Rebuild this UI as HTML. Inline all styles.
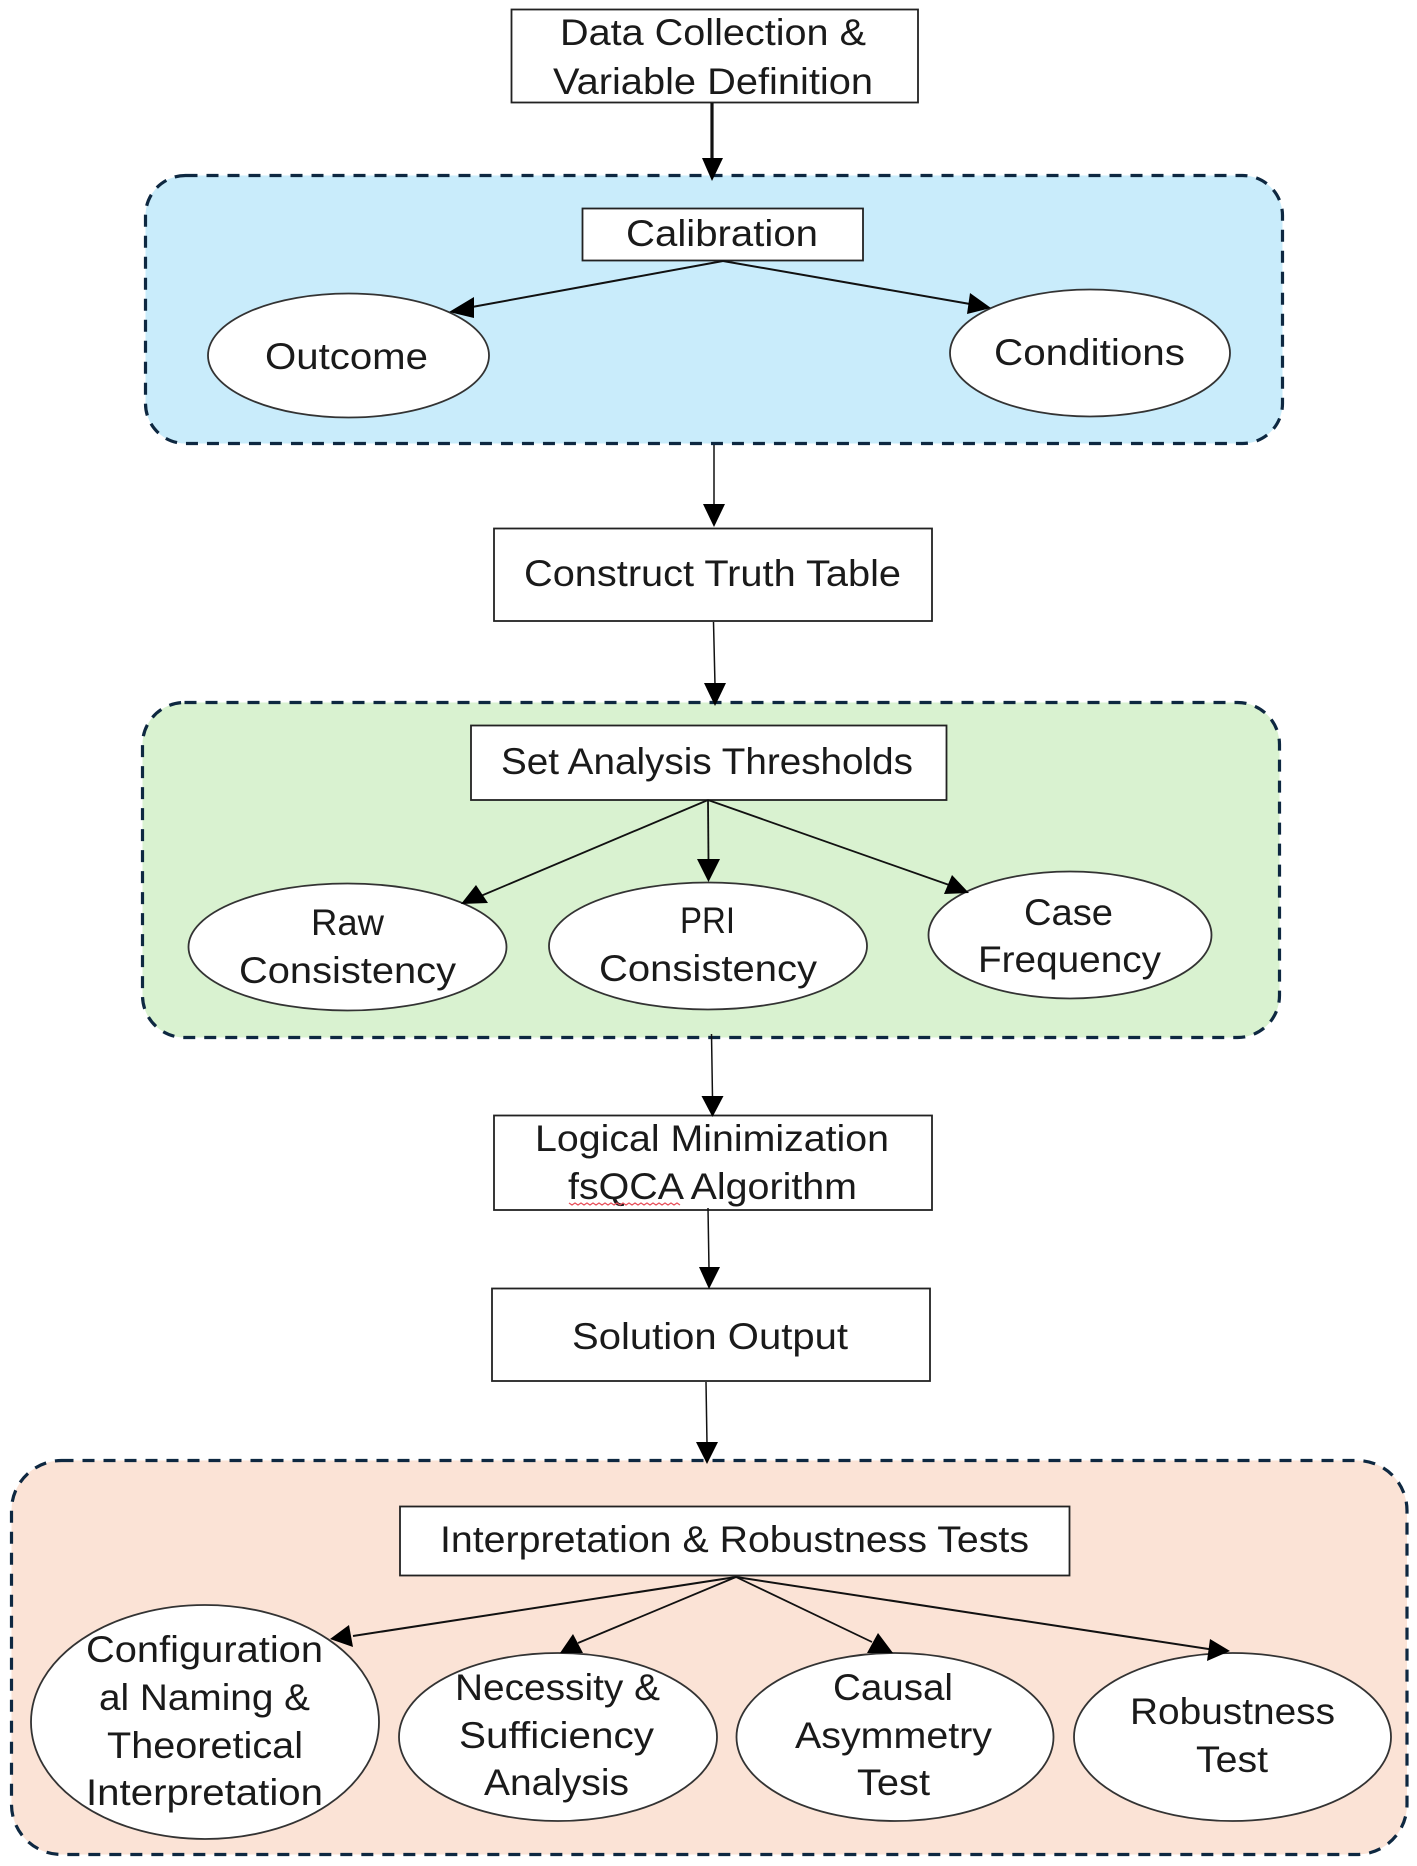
<!DOCTYPE html>
<html lang="en">
<head>
<meta charset="utf-8">
<title>fsQCA process diagram</title>
<style>
html,body{margin:0;padding:0;background:#fff;}
svg{display:block;}
text{font-family:"Liberation Sans",sans-serif;font-size:37px;fill:#1a1a1a;}
</style>
</head>
<body>
<svg width="1417" height="1866" viewBox="0 0 1417 1866" xmlns="http://www.w3.org/2000/svg">
<rect width="1417" height="1866" fill="#ffffff"/>

<!-- Groups -->
<g stroke="#0e2841" stroke-width="3.2" stroke-dasharray="12 9">
<rect x="145.5" y="175.5" width="1137" height="268" rx="40" fill="#c9ecfb"/>
<rect x="142.5" y="702.5" width="1137" height="335" rx="42" fill="#d9f2d0"/>
<rect x="11.5" y="1460.5" width="1395.5" height="394" rx="50" fill="#fbe3d6"/>
</g>

<!-- Boxes -->
<g fill="#ffffff" stroke="#222222" stroke-width="1.8">
<rect x="511.5" y="9.5" width="406.5" height="93"/>
<rect x="582.5" y="208.5" width="280.5" height="52"/>
<rect x="494" y="528.5" width="438" height="92.5"/>
<rect x="471" y="725.5" width="475.5" height="74.5"/>
<rect x="494" y="1115.5" width="438" height="94.5"/>
<rect x="492" y="1288.5" width="438" height="92.5"/>
<rect x="400" y="1506.5" width="669.5" height="69"/>
</g>

<!-- Ellipses -->
<g fill="#ffffff" stroke="#333333" stroke-width="1.8">
<ellipse cx="348.5" cy="355.5" rx="140.5" ry="62"/>
<ellipse cx="1090" cy="353" rx="140" ry="63.5"/>
<ellipse cx="347.5" cy="947" rx="159" ry="63.5"/>
<ellipse cx="708" cy="946" rx="159" ry="63.5"/>
<ellipse cx="1070" cy="935" rx="141.5" ry="63.5"/>
<ellipse cx="205" cy="1722" rx="174" ry="117"/>
<ellipse cx="558" cy="1737" rx="159" ry="84"/>
<ellipse cx="895" cy="1737" rx="158.5" ry="84"/>
<ellipse cx="1232.5" cy="1737" rx="158.5" ry="84"/>
</g>

<!-- Connectors -->
<g stroke="#111111" fill="none">
<line x1="712" y1="103" x2="712" y2="162" stroke-width="3.2"/>
<line x1="723" y1="261" x2="472" y2="307" stroke-width="2"/>
<line x1="723" y1="261" x2="970" y2="304" stroke-width="2"/>
<line x1="714" y1="445" x2="714" y2="506" stroke-width="1.5"/>
<line x1="713.5" y1="622" x2="715" y2="685" stroke-width="1.5"/>
<line x1="708" y1="800" x2="476" y2="898" stroke-width="1.8"/>
<line x1="708" y1="800" x2="708.5" y2="862" stroke-width="1.8"/>
<line x1="708" y1="800" x2="952" y2="886" stroke-width="1.8"/>
<line x1="711.5" y1="1034" x2="712.5" y2="1098" stroke-width="1.5"/>
<line x1="708" y1="1208" x2="709" y2="1269" stroke-width="1.5"/>
<line x1="706" y1="1382" x2="707" y2="1444" stroke-width="1.5"/>
<line x1="736" y1="1577" x2="353" y2="1636" stroke-width="2"/>
<line x1="736" y1="1577" x2="578" y2="1643" stroke-width="1.8"/>
<line x1="736" y1="1577" x2="872" y2="1642" stroke-width="1.8"/>
<line x1="736" y1="1577" x2="1215" y2="1650" stroke-width="2"/>
</g>

<!-- Arrowheads -->
<g fill="#000000">
<polygon points="712,181 702,158 723,158"/>
<polygon points="449,312 474,297 474,318"/>
<polygon points="991,308 970,293 967,314"/>
<polygon points="714,527 703,504 725,504"/>
<polygon points="715,706 704,683 726,683"/>
<polygon points="461,904 476,885 488,903"/>
<polygon points="708.5,882 697,859 720,859"/>
<polygon points="969,893 952,875 944,894"/>
<polygon points="712.5,1117 701.5,1096 723.5,1096"/>
<polygon points="709,1289 699,1267 720,1267"/>
<polygon points="707,1464 696,1442 718,1442"/>
<polygon points="330,1639 349,1625 353,1647"/>
<polygon points="573,1634 560,1653 583,1653"/>
<polygon points="878,1633 867,1653 893,1653"/>
<polygon points="1230,1651 1210,1639 1207,1661"/>
</g>

<!-- Labels -->
<g transform="translate(0,1.2)">
<text x="560" y="44" textLength="306" lengthAdjust="spacingAndGlyphs">Data Collection &amp;</text>
<text x="553" y="93" textLength="320" lengthAdjust="spacingAndGlyphs">Variable Definition</text>
<text x="626" y="245" textLength="192" lengthAdjust="spacingAndGlyphs">Calibration</text>
<text x="265" y="368" textLength="163" lengthAdjust="spacingAndGlyphs">Outcome</text>
<text x="994" y="364" textLength="191" lengthAdjust="spacingAndGlyphs">Conditions</text>
<text x="524" y="585" textLength="377" lengthAdjust="spacingAndGlyphs">Construct Truth Table</text>
<text x="501" y="773" textLength="412" lengthAdjust="spacingAndGlyphs">Set Analysis Thresholds</text>
<text x="311" y="934" textLength="73" lengthAdjust="spacingAndGlyphs">Raw</text>
<text x="239" y="982" textLength="217" lengthAdjust="spacingAndGlyphs">Consistency</text>
<text x="680" y="932" textLength="55" lengthAdjust="spacingAndGlyphs">PRI</text>
<text x="599" y="980" textLength="218" lengthAdjust="spacingAndGlyphs">Consistency</text>
<text x="1024" y="924" textLength="89" lengthAdjust="spacingAndGlyphs">Case</text>
<text x="978" y="971" textLength="183" lengthAdjust="spacingAndGlyphs">Frequency</text>
<text x="535" y="1150" textLength="354" lengthAdjust="spacingAndGlyphs">Logical Minimization</text>
<text x="568" y="1198" textLength="289" lengthAdjust="spacingAndGlyphs">fsQCA Algorithm</text>
<text x="572" y="1348" textLength="276" lengthAdjust="spacingAndGlyphs">Solution Output</text>
<text x="440" y="1551" textLength="589" lengthAdjust="spacingAndGlyphs">Interpretation &amp; Robustness Tests</text>
<text x="86" y="1661" textLength="237" lengthAdjust="spacingAndGlyphs">Configuration</text>
<text x="99" y="1709" textLength="211" lengthAdjust="spacingAndGlyphs">al Naming &amp;</text>
<text x="107" y="1757" textLength="196" lengthAdjust="spacingAndGlyphs">Theoretical</text>
<text x="86" y="1804" textLength="237" lengthAdjust="spacingAndGlyphs">Interpretation</text>
<text x="455" y="1699" textLength="205" lengthAdjust="spacingAndGlyphs">Necessity &amp;</text>
<text x="459" y="1747" textLength="195" lengthAdjust="spacingAndGlyphs">Sufficiency</text>
<text x="484" y="1794" textLength="145" lengthAdjust="spacingAndGlyphs">Analysis</text>
<text x="833" y="1699" textLength="120" lengthAdjust="spacingAndGlyphs">Causal</text>
<text x="795" y="1747" textLength="197" lengthAdjust="spacingAndGlyphs">Asymmetry</text>
<text x="857" y="1794" textLength="73" lengthAdjust="spacingAndGlyphs">Test</text>
<text x="1130" y="1723" textLength="205" lengthAdjust="spacingAndGlyphs">Robustness</text>
<text x="1196" y="1771" textLength="72" lengthAdjust="spacingAndGlyphs">Test</text>
</g>

<!-- Spell-check squiggle -->
<polyline fill="none" stroke="#e8505b" stroke-width="1.3" points="569,1203 572,1205 575,1203 578,1205 581,1203 584,1205 587,1203 590,1205 593,1203 596,1205 599,1203 602,1205 605,1203 608,1205 611,1203 614,1205 617,1203 620,1205 623,1203 626,1205 629,1203 632,1205 635,1203 638,1205 641,1203 644,1205 647,1203 650,1205 653,1203 656,1205 659,1203 662,1205 665,1203 668,1205 671,1203 674,1205 677,1203 680,1205"/>
</svg>
</body>
</html>
